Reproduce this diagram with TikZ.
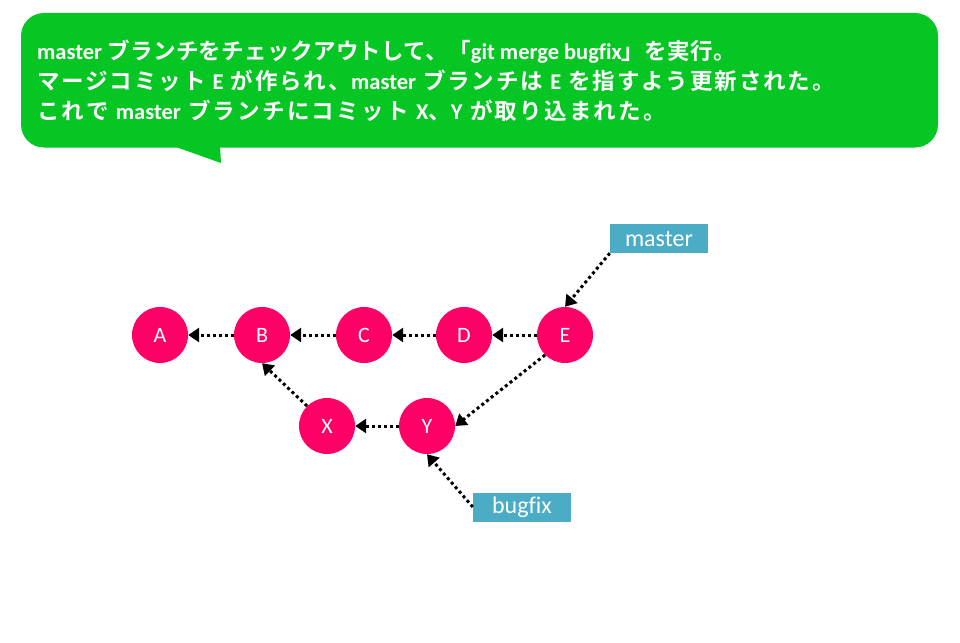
\documentclass[tikz,border=0pt]{standalone}
\usepackage{fontspec}
\setmainfont{Carlito}[Ligatures=CommonOff]
\newfontfamily\jpA{Noto Sans CJK JP}[BoldFont={Noto Sans CJK JP Bold},LetterSpace=1.5]
\newfontfamily\jpB{Noto Sans CJK JP}[BoldFont={Noto Sans CJK JP Bold},LetterSpace=8.5]
\newfontfamily\jpC{Noto Sans CJK JP}[BoldFont={Noto Sans CJK JP Bold},LetterSpace=10]
\newfontfamily\latfont{Carlito}[Ligatures=CommonOff]
\newcommand{\lat}[1]{{\latfont\bfseries #1}}
\usetikzlibrary{arrows.meta}
\definecolor{callgreen}{RGB}{5,198,35}
\definecolor{commitpink}{RGB}{255,0,102}
\definecolor{refblue}{RGB}{75,172,198}
\begin{document}
\begin{tikzpicture}[x=1pt,y=-1pt,
  commit/.style={circle,fill=commitpink,minimum size=56pt,inner sep=0pt,text=white,font=\latfont\fontsize{22}{24}\selectfont},
  refbox/.style={rectangle,fill=refblue,minimum width=98pt,minimum height=29pt,inner sep=0pt,text=white,font=\latfont\fontsize{24}{26}\selectfont},
  link/.style={line width=3pt,dash pattern=on 3pt off 3pt,-{Triangle[length=11pt,width=14pt]}},
  calltext/.style={anchor=west,text=white,inner sep=0pt,font=\bfseries\fontsize{22.5}{27}\selectfont}
]
\useasboundingbox (0,0) rectangle (960,642);
% callout
\fill[callgreen,rounded corners=23pt] (21,13) rectangle (938,147.5);
\fill[callgreen] (173,146) -- (221,163) -- (220,146) -- cycle;
\node[calltext] (t1) at (37,51.5) {\jpA\bfseries\lat{master} ブランチをチェックアウトして、「\lat{git merge bugfix}」を実行。};
\node[calltext] (t2) at (37,81) {\jpB\bfseries マージコミット \lat{E} が作られ、\lat{master} ブランチは \lat{E} を指すよう更新された。};
\node[calltext] (t3) at (37,110.5) {\jpC\bfseries これで \lat{master} ブランチにコミット \lat{X}、\lat{Y} が取り込まれた。};
% commits
\node[commit] (A) at (160,335) {A};
\node[commit] (B) at (262,335) {B};
\node[commit] (C) at (364,335) {C};
\node[commit] (D) at (464,335) {D};
\node[commit] (E) at (565,335) {E};
\node[commit] (X) at (327,426) {X};
\node[commit] (Y) at (427,426) {Y};
% refs
\node[refbox] (master) at (659,238.5) {master};
\node[refbox] (bugfix) at (522,507) {bugfix};
% links
\draw[link] (E.west) -- (D.east);
\draw[link] (D.west) -- (C.east);
\draw[link] (C.west) -- (B.east);
\draw[link] (B.west) -- (A.east);
\draw[link] (Y.west) -- (X.east);
\draw[link] (X.135) -- (B.south);
\draw[link] (E.225) -- (Y.east);
\draw[link] (master.south west) -- (E.north);
\draw[link] (bugfix.west) -- (Y.south);
\end{tikzpicture}
\end{document}
